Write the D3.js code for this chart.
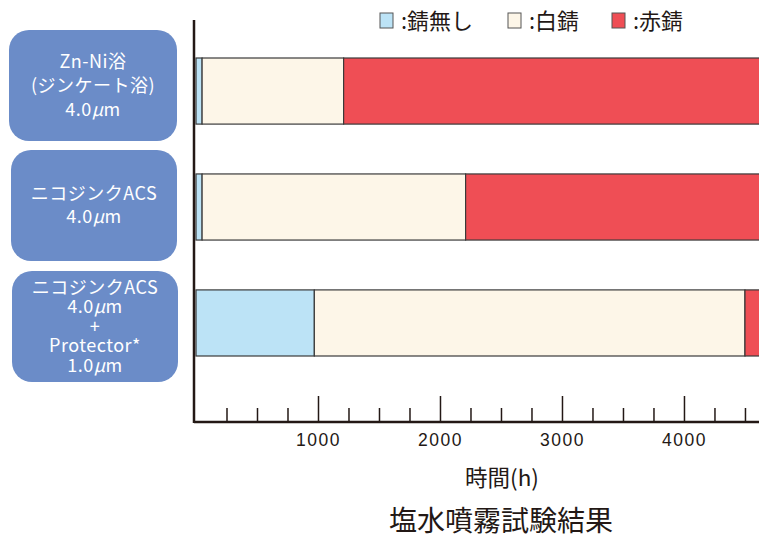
<!DOCTYPE html>
<html>
<head>
<meta charset="utf-8">
<script src="https://cdn.jsdelivr.net/npm/d3@7"></script>
<style>
  body { margin: 0; background: #fff; }
  svg { display: block; font-family: "Noto Sans CJK JP", "Noto Sans", sans-serif; }
</style>
</head>
<body>
<script>
// test conditions (one row per bar), label split into lines
var categories = ["zn", "acs", "acsPro"];
var labelLines = [
  ["Zn-Ni浴", "(ジンケート浴)", "4.0μm"],
  ["ニコジンクACS", "4.0μm"],
  ["ニコジンクACS", "4.0μm", "+", "Protector*", "1.0μm"]
];
// hours where each stage ends
var noRustEnd = [50, 50, 970];
var whiteRustEnd = [1210, 2210, 4500];

var legendNames = ["錆無し", "白錆", "赤錆"];
var colors = ["#bce3f6", "#fdf6e8", "#ef4e55"];
var majorTicks = [1000, 2000, 3000, 4000];

var W = 759, H = 538;
var svg = d3.select("body").append("svg").attr("width", W).attr("height", H);

var x = d3.scaleLinear().domain([0, 4615]).range([196, 759]);
var y = d3.scaleBand().domain(categories).range([58, 356]).paddingInner(0.43).paddingOuter(0);
var xMax = x.domain()[1];

// left label boxes
var boxes = [
  {y0: 30, y1: 141, x0: 9, x1: 177, lh: 24},
  {y0: 150, y1: 261, x0: 11, x1: 177, lh: 23},
  {y0: 271, y1: 382, x0: 12, x1: 178, lh: 19.5}
];
boxes.forEach(function(b, i) {
  svg.append("rect")
    .attr("x", b.x0).attr("y", b.y0)
    .attr("width", b.x1 - b.x0).attr("height", b.y1 - b.y0)
    .attr("rx", 20).attr("ry", 20)
    .attr("fill", "#6b8cc8");
  var lines = labelLines[i];
  var cy = (b.y0 + b.y1) / 2;
  lines.forEach(function(line, j) {
    var t = svg.append("text")
      .attr("x", (b.x0 + b.x1) / 2)
      .attr("y", cy + (j - (lines.length - 1) / 2) * b.lh)
      .attr("dy", "0.36em")
      .attr("text-anchor", "middle")
      .attr("fill", "#fff")
      .attr("font-size", 18)
      .attr("letter-spacing", 0.5);
    if (line.indexOf("μ") >= 0) {
      var parts = line.split("μ");
      t.append("tspan").text(parts[0]);
      t.append("tspan").attr("font-style", "italic").text("μ");
      t.append("tspan").text(parts[1]);
    } else {
      t.text(line);
    }
  });
});

// bars
svg.append("clipPath").attr("id", "plot").append("rect")
  .attr("x", 194).attr("y", 0).attr("width", W - 194).attr("height", H);
var barG = svg.append("g").attr("clip-path", "url(#plot)");
categories.forEach(function(c, i) {
  var segs = [[0, noRustEnd[i]], [noRustEnd[i], whiteRustEnd[i]], [whiteRustEnd[i], xMax + 100]];
  segs.forEach(function(s, k) {
    barG.append("rect")
      .attr("x", x(s[0]))
      .attr("y", y(c))
      .attr("width", x(s[1]) - x(s[0]))
      .attr("height", y.bandwidth())
      .attr("fill", colors[k])
      .attr("stroke", "#3a3a3a")
      .attr("stroke-width", 1.2);
  });
});

// x axis: minor ticks then major ticks with labels
var minor = d3.range(250, xMax, 250).filter(function(v) { return v % 1000 !== 0; });
var axisY = 422;
var minorAxis = svg.append("g").attr("transform", "translate(0," + axisY + ")")
  .call(d3.axisBottom(x).tickValues(minor).tickSize(-14).tickSizeOuter(0).tickFormat(""));
var majorAxis = svg.append("g").attr("transform", "translate(0," + axisY + ")")
  .call(d3.axisBottom(x).tickValues(majorTicks).tickSize(-26).tickSizeOuter(0)
    .tickPadding(12).tickFormat(d3.format("d")));
[minorAxis, majorAxis].forEach(function(g) {
  g.select(".domain").remove();
  g.selectAll(".tick line").attr("stroke", "#231815").attr("stroke-width", 1.5);
});
majorAxis.selectAll(".tick text")
  .attr("fill", "#231815")
  .attr("font-size", 17.5)
  .attr("letter-spacing", 1.5)
  .attr("font-family", "'Liberation Sans', sans-serif");

// axis lines
svg.append("line").attr("x1", 194).attr("x2", W).attr("y1", axisY).attr("y2", axisY)
  .attr("stroke", "#231815").attr("stroke-width", 2.5);
svg.append("line").attr("x1", 194).attr("x2", 194).attr("y1", 20).attr("y2", axisY + 1)
  .attr("stroke", "#231815").attr("stroke-width", 2.5);

// axis title and chart title
svg.append("text").attr("x", 502).attr("y", 478).attr("dy", "0.36em")
  .attr("text-anchor", "middle").attr("font-size", 22.5).attr("fill", "#231815")
  .text("時間(h)");
svg.append("text").attr("x", 501).attr("y", 521).attr("dy", "0.36em")
  .attr("text-anchor", "middle").attr("font-size", 28).attr("fill", "#231815")
  .text("塩水噴霧試験結果");

// legend
var legX = [380, 508, 612];
legendNames.forEach(function(name, i) {
  svg.append("rect").attr("x", legX[i]).attr("y", 13).attr("width", 13).attr("height", 15)
    .attr("fill", colors[i]).attr("stroke", "#555").attr("stroke-width", 1);
  svg.append("text").attr("x", legX[i] + 21).attr("y", 21).attr("dy", "0.36em")
    .attr("font-size", 22).attr("fill", "#231815")
    .text(":" + name);
});
</script>
</body>
</html>
